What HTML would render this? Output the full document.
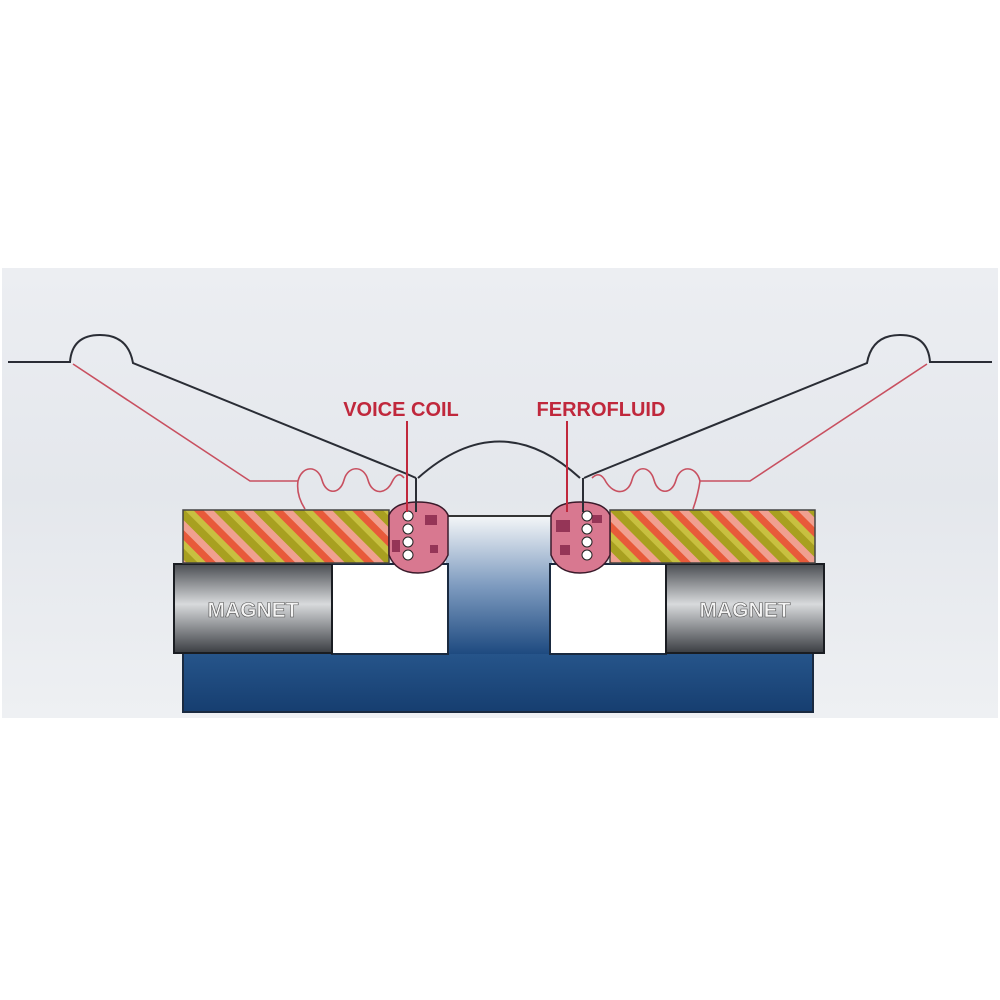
<!DOCTYPE html>
<html><head><style>
html,body{margin:0;padding:0;background:#fff;width:1000px;height:1000px;overflow:hidden}
</style></head><body>
<svg width="1000" height="1000" viewBox="0 0 1000 1000" xmlns="http://www.w3.org/2000/svg">
<defs>
<linearGradient id="bg" x1="0" y1="0" x2="0" y2="1">
<stop offset="0" stop-color="#eceef2"/><stop offset="0.5" stop-color="#e4e7ec"/><stop offset="1" stop-color="#eef0f3"/>
</linearGradient>
<pattern id="stripe" width="28" height="28" patternUnits="userSpaceOnUse" patternTransform="rotate(-45)">
<rect width="28" height="28" fill="#e8a080"/>
<rect x="0" width="7" height="28" fill="#e85a3a"/>
<rect x="7" width="7" height="28" fill="#f0a090"/>
<rect x="14" width="8" height="28" fill="#a8a020"/>
<rect x="22" width="6" height="28" fill="#c8c040"/>
</pattern>
<linearGradient id="mag" x1="0" y1="0" x2="0" y2="1">
<stop offset="0" stop-color="#4a4d52"/><stop offset="0.45" stop-color="#d8dadc"/><stop offset="1" stop-color="#3a3d42"/>
</linearGradient>
<linearGradient id="pole" x1="0" y1="0" x2="0" y2="1">
<stop offset="0" stop-color="#f4f6f8"/><stop offset="0.5" stop-color="#7f9cc0"/><stop offset="1" stop-color="#1e4a80"/>
</linearGradient>
<linearGradient id="base" x1="0" y1="0" x2="0" y2="1">
<stop offset="0" stop-color="#27568c"/><stop offset="1" stop-color="#163e70"/>
</linearGradient>
</defs>
<rect x="2" y="268" width="996" height="450" fill="url(#bg)"/>
<!-- base -->
<rect x="183" y="650" width="630" height="62" fill="url(#base)" stroke="#1a2a40" stroke-width="2"/>
<!-- pole -->
<rect x="446" y="516" width="106" height="138" fill="url(#pole)"/>
<line x1="446" y1="516" x2="552" y2="516" stroke="#333" stroke-width="2"/>
<!-- white gaps -->
<rect x="332" y="564" width="116" height="90" fill="#fff" stroke="#1a2a40" stroke-width="2"/>
<rect x="550" y="564" width="116" height="90" fill="#fff" stroke="#1a2a40" stroke-width="2"/>
<!-- magnets -->
<rect x="174" y="564" width="158" height="89" fill="url(#mag)" stroke="#1a1d22" stroke-width="2"/>
<rect x="666" y="564" width="158" height="89" fill="url(#mag)" stroke="#1a1d22" stroke-width="2"/>
<text x="253" y="617" text-anchor="middle" font-family="Liberation Sans, sans-serif" font-weight="bold" font-size="21" fill="#f4f4f4" stroke="#555" stroke-width="0.6">MAGNET</text>
<text x="745" y="617" text-anchor="middle" font-family="Liberation Sans, sans-serif" font-weight="bold" font-size="21" fill="#f4f4f4" stroke="#555" stroke-width="0.6">MAGNET</text>
<!-- top plates -->
<rect x="183" y="510" width="206" height="53" fill="url(#stripe)" stroke="#444" stroke-width="1.5"/>
<rect x="610" y="510" width="205" height="53" fill="url(#stripe)" stroke="#444" stroke-width="1.5"/>
<!-- ferrofluid blobs -->
<path d="M389,515 Q395,502 418,502 Q442,502 448,515 L448,555 Q440,573 418,573 Q396,573 389,555 Z" fill="#d87890" stroke="#3a1a2a" stroke-width="1.5"/>
<path d="M551,515 Q557,502 580,502 Q604,502 610,515 L610,555 Q602,573 580,573 Q558,573 551,555 Z" fill="#d87890" stroke="#3a1a2a" stroke-width="1.5"/>
<g fill="#7a1a40" opacity="0.7">
<rect x="425" y="515" width="12" height="10"/><rect x="392" y="540" width="8" height="12"/><rect x="430" y="545" width="8" height="8"/>
<rect x="556" y="520" width="14" height="12"/><rect x="560" y="545" width="10" height="10"/><rect x="592" y="515" width="10" height="8"/>
</g>
<g fill="#fff" stroke="#222" stroke-width="1">
<circle cx="408" cy="516" r="5"/><circle cx="408" cy="529" r="5"/><circle cx="408" cy="542" r="5"/><circle cx="408" cy="555" r="5"/>
<circle cx="587" cy="516" r="5"/><circle cx="587" cy="529" r="5"/><circle cx="587" cy="542" r="5"/><circle cx="587" cy="555" r="5"/>
</g>
<!-- red spider/frame lines -->
<g fill="none" stroke="#c85060" stroke-width="1.6">
<path d="M73,364 L250,481 L298,481"/>
<path d="M298,481 Q296,495 305,509"/>
<path d="M298,481 C302,465 318,465 322,480 C326,495 340,495 344,480 C348,465 364,465 368,480 C372,495 386,495 392,482 Q398,470 404,478"/>
<path d="M927,364 L750,481 L700,481"/>
<path d="M700,481 Q698,495 693,509"/>
<path d="M700,481 C696,465 680,465 676,480 C672,495 658,495 654,480 C650,465 636,465 632,480 C628,495 614,495 606,482 Q600,470 592,478"/>
</g>
<!-- black cone lines -->
<g fill="none" stroke="#2a2d35" stroke-width="2">
<path d="M8,362 L70,362 Q72,335 100,335 Q128,335 133,363 L407,474 L416,478"/>
<path d="M992,362 L930,362 Q928,335 900,335 Q872,335 867,363 L593,474 L584,478"/>
<path d="M418,478 Q500,405 580,478"/>
<line x1="416" y1="478" x2="416" y2="512"/>
<line x1="583" y1="478" x2="583" y2="512"/>
</g>
<!-- labels -->
<line x1="407" y1="421" x2="407" y2="512" stroke="#c0283c" stroke-width="2"/>
<line x1="567" y1="421" x2="567" y2="512" stroke="#c0283c" stroke-width="2"/>
<text x="401" y="416" text-anchor="middle" font-family="Liberation Sans, sans-serif" font-weight="bold" font-size="20" fill="#c0283c">VOICE COIL</text>
<text x="601" y="416" text-anchor="middle" font-family="Liberation Sans, sans-serif" font-weight="bold" font-size="20" fill="#c0283c">FERROFLUID</text>
</svg>
</body></html>
